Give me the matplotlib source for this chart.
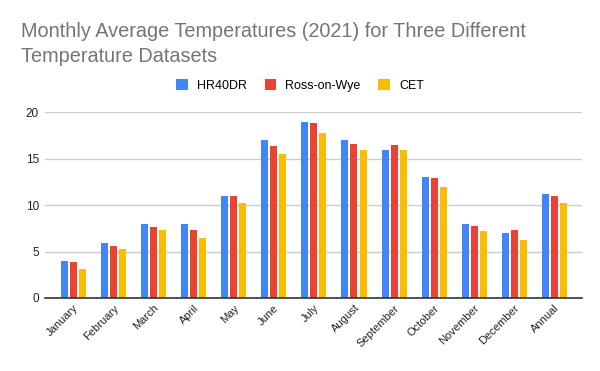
import matplotlib
matplotlib.use("Agg")
import matplotlib.pyplot as plt
import numpy as np

plt.rcParams["font.family"] = ["Liberation Sans", "DejaVu Sans"]

# datos
months = ["January", "February", "March", "April", "May", "June", "July",
          "August", "September", "October", "November", "December", "Annual"]
hr40dr = [4.0, 5.9, 8.0, 8.0, 11.0, 17.0, 19.0, 17.0, 15.9, 13.0, 8.0, 7.0, 11.2]
ross = [3.9, 5.6, 7.6, 7.3, 11.0, 16.4, 18.9, 16.6, 16.5, 12.9, 7.8, 7.3, 11.0]
cet = [3.1, 5.3, 7.3, 6.5, 10.2, 15.5, 17.8, 15.9, 15.9, 12.0, 7.2, 6.2, 10.2]
series_names = ["HR40DR", "Ross-on-Wye", "CET"]
colors = ["#4285F4", "#EA4335", "#FBBC04"]
title_lines = ["Monthly Average Temperatures (2021) for Three Different",
               "Temperature Datasets"]

fig = plt.figure(figsize=(6.0, 3.71), dpi=100)
ax = fig.add_axes([0.0755, 0.1968, 0.894, 0.5005])

x = np.arange(len(months))
width = 0.175
step = 0.225
for i, (vals, name, c) in enumerate(zip([hr40dr, ross, cet], series_names, colors)):
    ax.bar(x + (i - 1) * step, vals, width, color=c, label=name, zorder=3)

ax.set_xlim(-0.7, 12.68)
ax.set_ylim(0, 20)
ax.set_yticks([0, 5, 10, 15, 20])
ax.grid(axis="y", color="#cccccc", linewidth=1, zorder=0)
for s in ["top", "right", "left"]:
    ax.spines[s].set_visible(False)
ax.spines["bottom"].set_color("#333333")
ax.spines["bottom"].set_linewidth(1.2)
ax.spines["bottom"].set_zorder(4)
ax.tick_params(axis="both", length=0, labelsize=8, labelcolor="#222222")
ax.tick_params(axis="y", pad=4.5, labelsize=8.5)
ax.set_xticks(x)
ax.set_xticklabels(months, rotation=45, ha="right", rotation_mode="anchor")

# titulo en dos lineas
for yy, line in zip([0.8995, 0.8337], title_lines):
    fig.text(0.0345, yy, line, fontsize=14.35, color="#757575",
             ha="left", va="baseline")

fig.legend(loc="center", bbox_to_anchor=(0.5, 0.7695), ncol=3, frameon=False,
           fontsize=9, handlelength=0.92, handleheight=0.92, handletextpad=0.75,
           columnspacing=1.39)

fig.savefig("out.png", dpi=100)
